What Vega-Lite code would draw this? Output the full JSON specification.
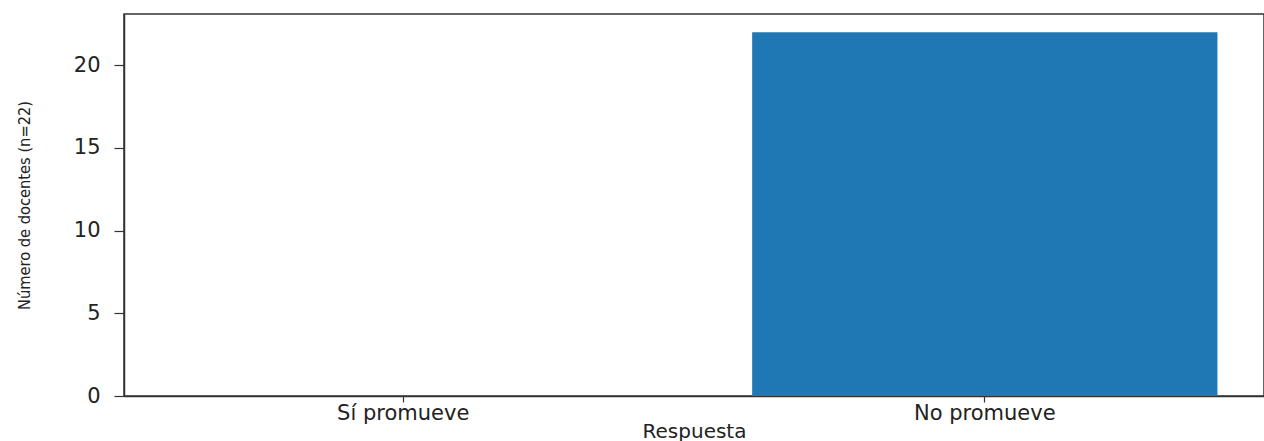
{
  "$schema": "https://vega.github.io/schema/vega-lite/v6.json",
  "width": 1140,
  "height": 382,
  "autosize": {"type": "none"},
  "padding": {"left": 124, "top": 14, "right": 0, "bottom": 45},
  "background": "white",
  "data": {"values": [
    {"Respuesta": "Sí promueve", "n": 0},
    {"Respuesta": "No promueve", "n": 22}
  ]},
  "mark": {"type": "bar", "color": "#1f77b4"},
  "encoding": {
    "x": {
      "field": "Respuesta", "type": "nominal", "sort": ["Sí promueve", "No promueve"],
      "scale": {"paddingInner": 0.2, "paddingOuter": 0.08},
      "axis": {"title": "Respuesta", "labelAngle": 0, "labelFontSize": 21, "titleFontSize": 20, "labelPadding": 0, "titlePadding": -2, "titleFontWeight": "normal"}
    },
    "y": {
      "field": "n", "type": "quantitative",
      "scale": {"domain": [0, 23.1], "nice": false},
      "axis": {"title": "Número de docentes (n=22)", "values": [0, 5, 10, 15, 20], "labelFontSize": 21, "labelPadding": 14, "tickSize": 10, "titleFont": "DejaVu Sans Condensed, DejaVu Sans", "titleFontSize": 16.3, "titleFontWeight": "normal", "titleX": -92}
    }
  },
  "config": {
    "view": {"stroke": "#333", "strokeWidth": 1.5},
    "axis": {"grid": false, "labelFont": "DejaVu Sans", "titleFont": "DejaVu Sans", "labelColor": "#222", "titleColor": "#222", "domainColor": "#333", "domainWidth": 1.5, "tickColor": "#333", "tickWidth": 1.2, "tickSize": 6}
  }
}
